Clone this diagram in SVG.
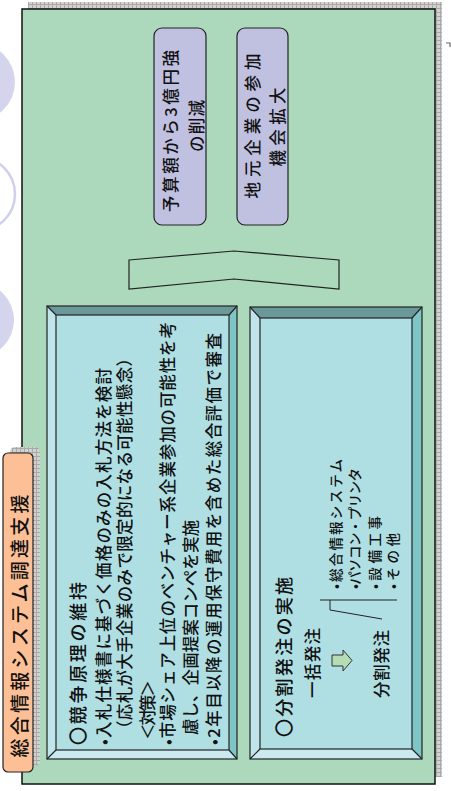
<svg xmlns="http://www.w3.org/2000/svg" width="451" height="791" viewBox="0 0 451 791">
<defs>
<pattern id="grid" width="4" height="4" patternUnits="userSpaceOnUse">
<rect width="4" height="4" fill="#d2d2d2"/>
<path d="M0 0.5H4M0.5 0V4" stroke="#a9a9a9" stroke-width="1"/>
</pattern>
<style>
text{font-family:"Noto Sans CJK JP","Noto Sans",sans-serif;font-weight:500;fill:#111;dominant-baseline:central}
.b{font-size:16.5px}
.h{font-size:18px}
.s{font-size:13.5px}
.box{fill:#c0c0e0;stroke:#222;stroke-width:1.2}
.edge{stroke:#222;stroke-width:1.2}
</style>
</defs>
<rect width="451" height="791" fill="#fff"/>
<g id="deco">
<circle cx="-24" cy="82" r="39" fill="#d4d4ec"/>
<circle cx="-22" cy="194" r="37" fill="none" stroke="#d0d0ec" stroke-width="2.5"/>
<circle cx="-24" cy="320" r="38" fill="#d4d4ec"/>
</g>
<g id="frame">
<rect x="28" y="2" width="414" height="775" fill="url(#grid)"/>
<rect x="22" y="9" width="413" height="775" fill="#acd8bb" stroke="#111" stroke-width="1.5"/>
<path d="M446 43h4v4" fill="none" stroke="#666" stroke-width="1.2"/>
</g>
<g id="goal1">
<rect class="box" x="154" y="28" width="52" height="197" rx="8"/>
<text class="b" transform="translate(170,131) rotate(-90)" text-anchor="middle" textLength="162" lengthAdjust="spacing">予算額から3億円強</text>
<text class="b" transform="translate(196,126) rotate(-90)" text-anchor="middle" textLength="52" lengthAdjust="spacing">の削減</text>
</g>
<g id="goal2">
<rect class="box" x="237" y="28" width="51" height="197" rx="8"/>
<text class="b" transform="translate(252,126) rotate(-90)" text-anchor="middle" textLength="145" lengthAdjust="spacing">地元企業の参加</text>
<text class="b" transform="translate(277,127) rotate(-90)" text-anchor="middle" textLength="79" lengthAdjust="spacing">機会拡大</text>
</g>
<g id="connectors">
<polygon points="129,260 234,251 339,260 339,289 234,279 129,289" fill="#acd8bb" stroke="#222" stroke-width="1.2"/>
</g>
<g id="panel1">
<polygon points="47,306 237,306 229,315 56,315" fill="#6b9999"/>
<polygon points="237,306 237,759 229,750 229,315" fill="#80c5c5"/>
<polygon points="47,759 237,759 229,750 56,750" fill="#cbe9ef"/>
<polygon points="47,306 56,315 56,750 47,759" fill="#bfe5ea"/>
<rect x="56" y="315" width="173" height="435" fill="#afdee3" class="edge"/>
<rect x="47" y="306" width="190" height="453" fill="none" class="edge"/>
<path class="edge" d="M47 306L56 315M237 306L229 315M237 759L229 750M47 759L56 750"/>
<text class="h" transform="translate(77,745) rotate(-90)" textLength="163" lengthAdjust="spacing">〇競争原理の維持</text>
<text class="b" transform="translate(103,745) rotate(-90)" textLength="377" lengthAdjust="spacing">•入札仕様書に基づく価格のみの入札方法を検討</text>
<text class="b" transform="translate(124,737) rotate(-90)" textLength="387" lengthAdjust="spacing">（応札が大手企業のみで限定的になる可能性懸念）</text>
<text class="b" transform="translate(147,740) rotate(-90)" textLength="60" lengthAdjust="spacing">＜対策＞</text>
<text class="b" transform="translate(167,745) rotate(-90)" textLength="423" lengthAdjust="spacing">•市場シェア上位のベンチャー系企業参加の可能性を考</text>
<text class="b" transform="translate(190,735) rotate(-90)" textLength="215" lengthAdjust="spacing">慮し、企画提案コンペを実施</text>
<text class="b" transform="translate(213,745) rotate(-90)" textLength="412" lengthAdjust="spacing">•2年目以降の運用保守費用を含めた総合評価で審査</text>
</g>
<g id="panel2">
<polygon points="250,307 422,307 412,318 260,318" fill="#6b9999"/>
<polygon points="422,307 422,759 412,749 412,318" fill="#80c5c5"/>
<polygon points="250,759 422,759 412,749 260,749" fill="#cbe9ef"/>
<polygon points="250,307 260,318 260,749 250,759" fill="#bfe5ea"/>
<rect x="260" y="318" width="152" height="431" fill="#afdee3" class="edge"/>
<rect x="250" y="307" width="172" height="452" fill="none" class="edge"/>
<path class="edge" d="M250 307L260 318M422 307L412 318M422 759L412 749M250 759L260 749"/>
<text class="h" transform="translate(283,737) rotate(-90)" textLength="160" lengthAdjust="spacing">〇分割発注の実施</text>
<text class="b" transform="translate(312,663) rotate(-90)" text-anchor="middle" textLength="70" lengthAdjust="spacing">一括発注</text>
<path d="M332 655H343V650L352 660.5L343 671V666H332Z" fill="#b6dcb6" stroke="#333" stroke-width="1"/>
<text class="b" transform="translate(381,664) rotate(-90)" text-anchor="middle" textLength="68" lengthAdjust="spacing">分割発注</text>
<path d="M320 600H397M330 600V610L382 619" fill="none" stroke="#222" stroke-width="1"/>
<text class="s" transform="translate(335,589) rotate(-90)" textLength="130" lengthAdjust="spacing">•総合情報システム</text>
<text class="s" transform="translate(354,589) rotate(-90)" textLength="121" lengthAdjust="spacing">•パソコン・プリンタ</text>
<text class="s" transform="translate(374,589) rotate(-90)" textLength="73" lengthAdjust="spacing">•設備工事</text>
<text class="s" transform="translate(392,589) rotate(-90)" textLength="56" lengthAdjust="spacing">•その他</text>
</g>
<g id="title">
<rect x="10" y="447" width="30" height="319" rx="5" fill="url(#grid)"/>
<rect x="3" y="453" width="30" height="319" rx="5" fill="#fcbf96" stroke="#222" stroke-width="1.2"/>
<text transform="translate(18,626) rotate(-90)" text-anchor="middle" font-size="19" textLength="263" lengthAdjust="spacing">総合情報システム調達支援</text>
</g>
</svg>
